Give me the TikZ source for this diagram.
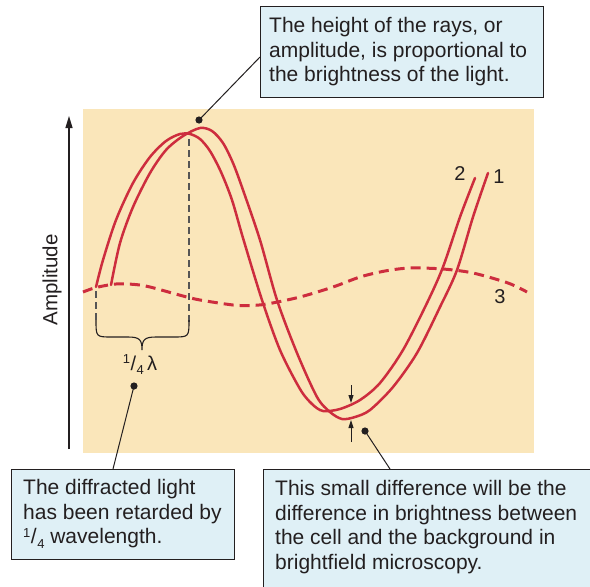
\documentclass[tikz,border=0pt]{standalone}
\usepackage{fontspec}
\setmainfont{Liberation Sans}
\usetikzlibrary{arrows.meta}
\definecolor{beige}{RGB}{250,230,186}
\definecolor{boxblue}{RGB}{223,240,246}
\definecolor{wavered}{RGB}{205,45,62}
\definecolor{ink}{RGB}{35,31,32}
\definecolor{guidegray}{RGB}{85,85,85}
\newcommand{\quarterfrac}{{\raisebox{0.62ex}{\fontsize{13}{13}\selectfont 1}\kern0.5pt/\kern0.5pt\raisebox{-0.42ex}{\fontsize{13}{13}\selectfont 4}}}
\begin{document}
\begin{tikzpicture}[x=1pt,y=-1pt,
  notebox/.style={draw=ink, line width=0.9pt, fill=boxblue, anchor=north west, inner sep=0pt},
  notetext/.style={anchor=north west, inner sep=0pt, align=left, text=ink, font=\fontsize{21}{24.5}\selectfont},
  lbl/.style={text=ink, inner sep=0pt, font=\fontsize{20}{24}\selectfont},
  wave/.style={draw=wavered, line width=2.5pt, line cap=round},
  dashwave/.style={draw=wavered, line width=3pt, dash pattern=on 10pt off 6pt},
  guide/.style={draw=guidegray, line width=1.2pt, dash pattern=on 7pt off 4pt},
  leader/.style={draw=ink, line width=1pt},
  dotmark/.style={fill=ink}
]
\useasboundingbox (0,0) rectangle (590,587);
\fill[white] (0,0) rectangle (590,587);

% panel
\node[fill=beige, anchor=north west, minimum width=451pt, minimum height=344pt, inner sep=0pt] (panel) at (83,109) {};

% amplitude axis
\coordinate (axbot) at (69,449);
\coordinate (axtop) at (69,116);
\draw[ink, line width=1.2pt, -{Triangle[length=12pt,width=7pt]}] (axbot) -- (axtop);
\node[lbl, rotate=90, font=\fontsize{20.5}{24}\selectfont] (amp) at (52,280) {Amplitude};

% guide lines and brace
\draw[guide] (96,291) -- (96,322);
\draw[guide] (189,139) -- (189,322);
\draw[ink, line width=1.1pt] (96,320) .. controls (96,337) and (96,337) .. (112,337) -- (128,337)
  .. controls (140,337) and (142,340) .. (142,350)
  .. controls (142,340) and (144,337) .. (156,337) -- (173,337)
  .. controls (189,337) and (189,337) .. (189,320);
\node[lbl] (lam) at (140,365) {\quarterfrac\,λ};

% dashed wave 3
\draw[dashwave] plot[smooth] coordinates {(83,292) (96,287.5) (116,284) (135,284.5) (150,287) (183,296) (200,300) (233,305) (250,305.5) (267,304) (300,297) (333,287) (360,277) (385,271) (410,268) (443,269) (473,273) (508,283) (527,292)};

% wave 2
\draw[wave] plot[smooth] coordinates {(96,287) (103,260) (116,220) (133,183) (150,157) (166,141) (180,134) (190,134) (200,139) (210,151) (221,172) (232,200) (243,238) (262,300) (280,350) (300,389) (312,404) (323,411) (340,409) (360,400) (380,383) (403,350) (427,303) (443,267) (460,217) (475,178)};

% wave 1
\draw[wave] plot[smooth] coordinates {(111,285) (120,243) (133,207) (150,173) (166,150) (183,136) (200,128) (212,131) (223,143) (233,163) (243,190) (260,240) (277,300) (297,353) (317,397) (330,412) (342,419) (355,417) (370,410) (393,387) (417,353) (440,307) (457,270) (473,217) (488,173)};

\node[lbl] (l2) at (460,174) {2};
\node[lbl] (l1) at (499,177) {1};
\node[lbl] (l3) at (500,297) {3};

% difference arrows
\coordinate (da1) at (351,385);
\coordinate (da2) at (351,403);
\coordinate (db1) at (351,442);
\coordinate (db2) at (351,420);
\draw[ink, line width=1pt, -{Triangle[length=8pt,width=5pt]}] (da1) -- (da2);
\draw[ink, line width=1pt, -{Triangle[length=8pt,width=5pt]}] (db1) -- (db2);

% boxes
\node[notebox, minimum width=283pt, minimum height=91pt] (topbox) at (260,6) {};
\node[notetext] (toptext) at (269,17.5) {The height of the rays, or\\amplitude, is proportional to\\the brightness of the light.};

\node[notebox, minimum width=223pt, minimum height=90pt] (leftbox) at (11,469) {};
\node[notetext] (lefttext) at (23,479.5) {The diffracted light\\has been retarded by\\\quarterfrac\ wavelength.};

\node[notebox, minimum width=340pt, minimum height=130pt] (rightbox) at (263,469) {};
\node[notetext] (righttext) at (275,480.5) {This small difference will be the\\difference in brightness between\\the cell and the background in\\brightfield microscopy.};

% leaders with dots
\coordinate (dtop) at (199,120);
\coordinate (ttop) at (260,57);
\coordinate (dlam) at (134,386);
\coordinate (tleft) at (113,469);
\coordinate (ddif) at (365,431);
\coordinate (tright) at (390,469);
\draw[leader] (dtop) -- (ttop);
\draw[leader] (dlam) -- (tleft);
\draw[leader] (ddif) -- (tright);
\fill[dotmark] (dtop) circle (3.6);
\fill[dotmark] (dlam) circle (3.6);
\fill[dotmark] (ddif) circle (3.6);
\end{tikzpicture}
\end{document}
